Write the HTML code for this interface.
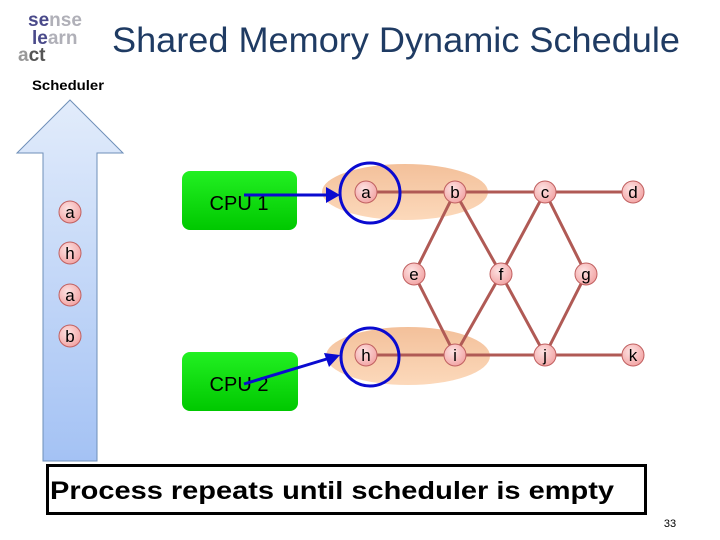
<!DOCTYPE html>
<html><head><meta charset="utf-8"><style>
html,body{margin:0;padding:0;background:#fff;width:720px;height:540px;overflow:hidden}
svg{display:block}
</style></head><body>
<svg width="720" height="540" viewBox="0 0 720 540" xmlns="http://www.w3.org/2000/svg">
<defs>
<linearGradient id="arr" x1="0" y1="0" x2="0" y2="1"><stop offset="0" stop-color="#e2ecfb"/><stop offset="1" stop-color="#a4c2f4"/></linearGradient>
<linearGradient id="grn" x1="0" y1="0" x2="0" y2="1"><stop offset="0" stop-color="#22f022"/><stop offset="1" stop-color="#00c800"/></linearGradient>
<linearGradient id="blob" x1="0" y1="0" x2="0" y2="1"><stop offset="0" stop-color="#f3c09a"/><stop offset="1" stop-color="#fcd9bb"/></linearGradient>
<radialGradient id="nd" cx="0.4" cy="0.35" r="0.7"><stop offset="0" stop-color="#fde3e3"/><stop offset="1" stop-color="#f2a2a2"/></radialGradient>
</defs>
<text x="28" y="26" font-family="Liberation Sans,sans-serif" font-weight="bold" font-size="19" fill="#4a4a8a">se<tspan fill="#b0b0b8">nse</tspan></text>
<text x="32" y="44" font-family="Liberation Sans,sans-serif" font-weight="bold" font-size="19" fill="#4a4a8a">le<tspan fill="#b0b0b8">arn</tspan></text>
<text x="18" y="61" font-family="Liberation Sans,sans-serif" font-weight="bold" font-size="19" fill="#555"><tspan fill="#999">a</tspan>ct</text>
<text x="112" y="52" font-family="Liberation Sans,sans-serif" font-size="35" fill="#1f3b63" textLength="568" lengthAdjust="spacingAndGlyphs">Shared Memory Dynamic Schedule</text>
<text x="32" y="90" font-family="Liberation Sans,sans-serif" font-weight="bold" font-size="14" textLength="72" lengthAdjust="spacingAndGlyphs">Scheduler</text>
<polygon points="70,100 123,153 97,153 97,461 43,461 43,153 17,153" fill="url(#arr)" stroke="#6e8fb8" stroke-width="1"/>
<rect x="182" y="171" width="115" height="59" rx="8" fill="url(#grn)"/>
<rect x="182" y="352" width="116" height="59" rx="8" fill="url(#grn)"/>
<text x="239" y="210" text-anchor="middle" font-family="Liberation Sans,sans-serif" font-size="20">CPU 1</text>
<text x="239" y="391" text-anchor="middle" font-family="Liberation Sans,sans-serif" font-size="20">CPU 2</text>
<ellipse cx="405" cy="192" rx="83" ry="28" fill="url(#blob)"/>
<ellipse cx="408" cy="356" rx="82" ry="29" fill="url(#blob)"/>
<g stroke="#b05a55" stroke-width="3" fill="none">
<line x1="366" y1="192" x2="633" y2="192"/>
<line x1="366" y1="355" x2="633" y2="355"/>
<polyline points="455,192 414,274 455,355"/>
<polyline points="455,192 501,274 455,355"/>
<polyline points="545,192 501,274 545,355"/>
<polyline points="545,192 586,274 545,355"/>
</g>
<g font-family="Liberation Sans,sans-serif" font-size="17" text-anchor="middle" stroke-width="1">
<g stroke="#c06060" fill="url(#nd)">
<circle cx="70" cy="212" r="11"/><circle cx="70" cy="253" r="11"/><circle cx="70" cy="295" r="11"/><circle cx="70" cy="336" r="11"/>
<circle cx="366" cy="192" r="11"/><circle cx="455" cy="192" r="11"/><circle cx="545" cy="192" r="11"/><circle cx="633" cy="192" r="11"/>
<circle cx="414" cy="274" r="11"/><circle cx="501" cy="274" r="11"/><circle cx="586" cy="274" r="11"/>
<circle cx="366" cy="355" r="11"/><circle cx="455" cy="355" r="11"/><circle cx="545" cy="355" r="11"/><circle cx="633" cy="355" r="11"/>
</g>
<g fill="#000">
<text x="70" y="218">a</text><text x="70" y="259">h</text><text x="70" y="301">a</text><text x="70" y="342">b</text>
<text x="366" y="198">a</text><text x="455" y="198">b</text><text x="545" y="198">c</text><text x="633" y="198">d</text>
<text x="414" y="280">e</text><text x="501" y="280">f</text><text x="586" y="280">g</text>
<text x="366" y="361">h</text><text x="455" y="361">i</text><text x="545" y="361">j</text><text x="633" y="361">k</text>
</g></g>
<g stroke="#0a0ad0" stroke-width="3" fill="none">
<circle cx="370" cy="193" r="30"/>
<circle cx="370" cy="357" r="29"/>
<line x1="244" y1="195" x2="330" y2="195"/>
<line x1="244" y1="384" x2="330" y2="358"/>
</g>
<polygon points="340,195 326,187 326,203" fill="#0a0ad0"/>
<polygon points="340,355 324,353 329,367" fill="#0a0ad0"/>
<rect x="47.5" y="465.5" width="598" height="48" fill="#fff" stroke="#000" stroke-width="3"/>
<text x="50" y="499" font-family="Liberation Sans,sans-serif" font-weight="bold" font-size="25" textLength="564" lengthAdjust="spacingAndGlyphs">Process repeats until scheduler is empty</text>
<text x="670" y="527" text-anchor="middle" font-family="Liberation Sans,sans-serif" font-size="11">33</text>
</svg>
</body></html>
